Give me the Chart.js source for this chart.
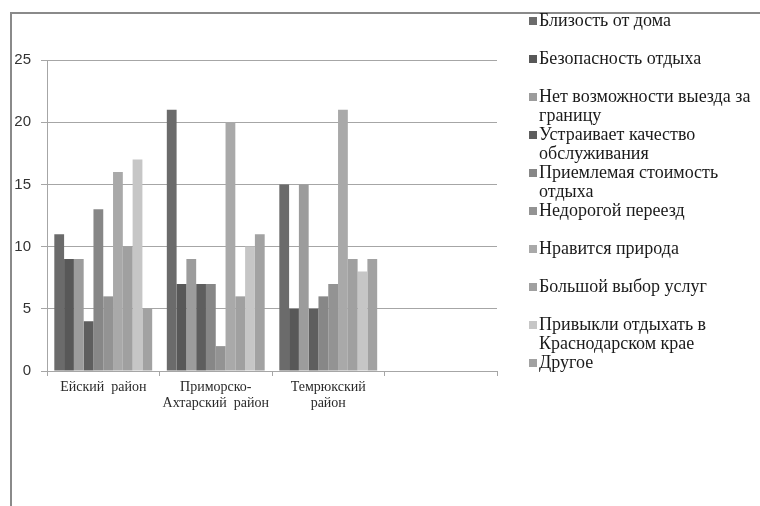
<!DOCTYPE html>
<html>
<head>
<meta charset="utf-8">
<script src="https://cdn.jsdelivr.net/npm/chart.js@4/dist/chart.umd.min.js"></script>
<style>
  body { margin: 0; background: #fff; }
  #wrap { position: relative; width: 760px; height: 506px; overflow: hidden; }
  #frame { position: absolute; left: 10px; top: 12px; right: -5px; bottom: -5px;
           border-top: 2px solid #8a8a8a; border-left: 2px solid #8a8a8a; }
  #chart { position: absolute; left: 0; top: 0; }
  #legend { position: absolute; left: 528px; top: 11px; width: 240px;
            font-family: "Liberation Serif", serif; font-size: 18px; color: #1a1a1a; }
  .item { position: relative; height: 38px; line-height: 19px; padding-left: 11px; white-space: pre-line; }
  .box { position: absolute; left: 1px; top: 6px; width: 8px; height: 8px; }
</style>
</head>
<body>
<div id="wrap">
  <div id="frame"></div>
  <canvas id="chart" width="760" height="506"></canvas>
  <div id="legend"></div>
</div>
<script>
// districts (4th slot is empty in the original)
const districts = [['Ейский  район'], ['Приморско-', 'Ахтарский  район'], ['Темрюкский', 'район'], ''];

const seriesLabels = [
  'Близость от дома',
  'Безопасность отдыха',
  'Нет возможности выезда за\nграницу',
  'Устраивает качество\nобслуживания',
  'Приемлемая стоимость\nотдыха',
  'Недорогой переезд',
  'Нравится природа',
  'Большой выбор услуг',
  'Привыкли отдыхать в\nКраснодарском крае',
  'Другое'
];

// one array per district, values in series order
const eysk = [11, 9, 9, 4, 13, 6, 16, 10, 17, 5];
const primorsko = [21, 7, 9, 7, 7, 2, 20, 6, 10, 11];
const temryuk = [15, 5, 15, 5, 6, 7, 21, 9, 8, 9];

const yTicks = [0, 5, 10, 15, 20, 25];

const grays = ['#6b6b6b', '#585858', '#9c9c9c', '#5e5e5e', '#878787',
               '#939393', '#a9a9a9', '#a0a0a0', '#c6c6c6', '#a2a2a2'];

const datasets = seriesLabels.map((lbl, i) => ({
  label: lbl.replace('\n', ' '),
  data: [eysk[i], primorsko[i], temryuk[i], null],
  backgroundColor: grays[i],
  borderWidth: 0,
  categoryPercentage: 0.87,
  barPercentage: 1.0
}));

const ctx = document.getElementById('chart');
new Chart(ctx, {
  type: 'bar',
  data: { labels: districts, datasets: datasets },
  options: {
    responsive: false,
    animation: false,
    layout: { padding: { left: 0, right: 263, top: 60, bottom: 0 } },
    plugins: { legend: { display: false }, tooltip: { enabled: false } },
    scales: {
      x: {
        grid: { offset: true, drawOnChartArea: false, drawTicks: true, tickLength: 5, color: '#a6a6a6' },
        border: { color: '#a6a6a6', width: 1 },
        ticks: {
          padding: 3,
          color: '#2a2a2a',
          maxRotation: 0,
          autoSkip: false,
          font: { family: 'Liberation Serif', size: 14, lineHeight: 1.15 }
        },
        afterFit: (s) => { s.height = 135; }
      },
      y: {
        min: 0,
        max: 25,
        afterBuildTicks: (s) => { s.ticks = yTicks.map(v => ({ value: v })); },
        grid: { color: '#a6a6a6', tickLength: 6 },
        border: { color: '#a6a6a6' },
        ticks: {
          padding: 10,
          color: '#333',
          font: { family: 'Liberation Sans', size: 15 }
        },
        afterFit: (s) => { s.width = 47; }
      }
    }
  }
});

// legend as html, same order as the datasets
const legend = document.getElementById('legend');
seriesLabels.forEach((lbl, i) => {
  const item = document.createElement('div');
  item.className = 'item';
  const box = document.createElement('span');
  box.className = 'box';
  box.style.background = grays[i];
  item.appendChild(box);
  item.appendChild(document.createTextNode(lbl));
  legend.appendChild(item);
});
</script>
</body>
</html>
